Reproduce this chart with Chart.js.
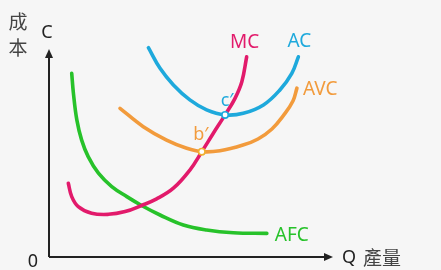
<!DOCTYPE html>
<html>
<head>
<meta charset="utf-8">
<script src="https://cdn.jsdelivr.net/npm/chart.js@4/dist/chart.umd.min.js"></script>
<style>
html,body{margin:0;padding:0;background:#f6f6f6;}
#wrap{width:441px;height:270px;}
</style>
</head>
<body>
<div id="wrap"><canvas id="c" width="441" height="270"></canvas></div>
<script>
// Quantity (x) / cost (y) points
const afcX = [0.80, 0.86, 0.98, 1.15, 1.38, 1.74, 2.21, 2.74, 3.26, 3.91, 4.73, 5.55, 6.49, 7.67];
const afcY = [8.09, 7.21, 6.04, 5.15, 4.42, 3.69, 3.10, 2.66, 2.27, 1.85, 1.41, 1.19, 1.07, 1.04];

const mcX = [0.68, 0.80, 1.03, 1.50, 2.09, 2.68, 3.26, 3.79, 4.38, 4.96, 5.38, 5.77, 6.20, 6.55, 6.79, 6.96];
const mcY = [3.25, 2.66, 2.22, 1.93, 1.88, 2.00, 2.27, 2.56, 3.03, 3.83, 4.64, 5.42, 6.26, 6.99, 7.72, 8.82];

const avcX = [2.50, 3.32, 4.14, 4.85, 5.38, 6.02, 6.83, 7.36, 7.85, 8.27, 8.59, 8.73];
const avcY = [6.55, 5.74, 5.15, 4.79, 4.64, 4.68, 4.93, 5.20, 5.64, 6.26, 6.87, 7.44];

const acX = [3.50, 3.91, 4.38, 4.96, 5.55, 6.20, 6.84, 7.55, 8.13, 8.55, 8.78];
const acY = [9.22, 8.31, 7.58, 6.92, 6.48, 6.26, 6.33, 6.70, 7.36, 8.09, 8.82];

// Marked points c' (MC = AC) and b' (MC = AVC)
const pointC = {x: 6.20, y: 6.26};
const pointB = {x: 5.38, y: 4.64};

const seriesNames = ['AFC', 'MC', 'AVC', 'AC'];
const pointLabels = ["c\u2032", "b\u2032"];
const axisLabels = {origin: '0', q: 'Q', qName: '產量', c: 'C', cName: ['成', '本']};

const colors = {AFC: '#27c22a', MC: '#e21a6b', AVC: '#f29b3c', AC: '#1ea9dc'};

function pts(xs, ys){ return xs.map((x,i)=>({x:x, y:ys[i]})); }

function lineDs(name, xs, ys, order){
  return {
    label: name, data: pts(xs, ys), order: order,
    borderColor: colors[name], borderWidth: 3.6, pointRadius: 0,
    tension: 0.4, fill: false, clip: false,
    borderCapStyle: 'round'
  };
}

function markDs(p, col){
  return {
    data: [p], showLine: false, order: -5, pointRadius: 3.2, pointBorderWidth: 1.6,
    pointBackgroundColor: '#ffffff', pointBorderColor: col, clip: false
  };
}

const overlay = {
  id: 'overlay',
  afterDatasetsDraw(chart){
    const ctx = chart.ctx;
    const xs = chart.scales.x, ys = chart.scales.y;
    const a = chart.chartArea;
    const ox = xs.getPixelForValue(0), oy = ys.getPixelForValue(0);
    ctx.save();
    ctx.strokeStyle = '#222'; ctx.fillStyle = '#222'; ctx.lineWidth = 2;
    ctx.beginPath();
    ctx.moveTo(ox, oy); ctx.lineTo(ox, a.top + 26);
    ctx.moveTo(ox, oy); ctx.lineTo(a.right - 6, oy);
    ctx.stroke();
    ctx.beginPath();
    ctx.moveTo(ox, a.top + 19); ctx.lineTo(ox - 4, a.top + 28); ctx.lineTo(ox + 4, a.top + 28); ctx.closePath();
    ctx.fill();
    ctx.beginPath();
    ctx.moveTo(a.right, oy); ctx.lineTo(a.right - 9, oy - 4); ctx.lineTo(a.right - 9, oy + 4); ctx.closePath();
    ctx.fill();

    ctx.textBaseline = 'middle'; ctx.textAlign = 'center';
    ctx.font = '18px "Noto Sans"';
    ctx.fillStyle = '#222';
    ctx.fillText(axisLabels.origin, ox - 16, oy + 5);
    ctx.fillText(axisLabels.c, ox - 2, a.top + 3);
    ctx.textAlign = 'left';
    ctx.fillText(axisLabels.q, a.right + 9, oy + 1);
    ctx.font = '19px "Noto Sans CJK TC"';
    ctx.fillStyle = '#444';
    ctx.fillText(axisLabels.qName, a.right + 30, oy + 1);
    ctx.textAlign = 'center';
    ctx.fillText(axisLabels.cName[0], 18, 22);
    ctx.fillText(axisLabels.cName[1], 18, 48);

    ctx.font = '19px "Noto Sans"';
    const lab = (txt, col, x, y, dx, dy, al) => {
      ctx.fillStyle = col; ctx.textAlign = al || 'center';
      ctx.fillText(txt, xs.getPixelForValue(x) + dx, ys.getPixelForValue(y) + dy);
    };
    lab('MC', colors.MC, mcX[mcX.length-1], mcY[mcY.length-1], -2, -14);
    lab('AC', colors.AC, acX[acX.length-1], acY[acY.length-1], 1, -15);
    lab('AVC', colors.AVC, avcX[avcX.length-1], avcY[avcY.length-1], 6, 1, 'left');
    lab('AFC', colors.AFC, afcX[afcX.length-1], afcY[afcY.length-1], 8, 2, 'left');
    ctx.font = '18px "Noto Sans"';
    lab(pointLabels[0], colors.AC, pointC.x, pointC.y, 2, -14);
    lab(pointLabels[1], colors.AVC, pointB.x, pointB.y, -1, -17);
    ctx.restore();
  }
};

new Chart(document.getElementById('c'), {
  type: 'line',
  data: {
    datasets: [
      lineDs('AFC', afcX, afcY, 1),
      lineDs('MC', mcX, mcY, -1),
      lineDs('AVC', avcX, avcY, 0),
      lineDs('AC', acX, acY, 0),
      markDs(pointC, colors.AC),
      markDs(pointB, '#f0b030')
    ]
  },
  options: {
    responsive: false, animation: false,
    layout: {padding: {left: 49, right: 108, top: 30, bottom: 13}},
    scales: {
      x: {type: 'linear', min: 0, max: 10, display: false},
      y: {type: 'linear', min: 0, max: 10, display: false}
    },
    plugins: {legend: {display: false}, tooltip: {enabled: false}}
  },
  plugins: [overlay]
});
</script>
</body>
</html>
